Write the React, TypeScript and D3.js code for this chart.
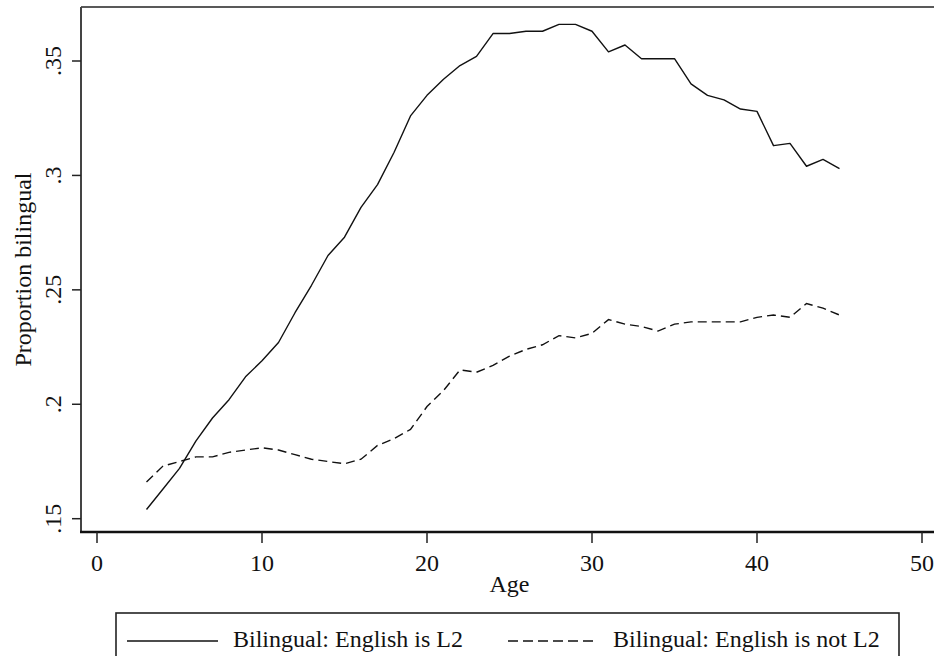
import React from 'react'
import { scaleLinear, line } from 'd3'

// ages 3..45, one value per year
const ages = [3, 4, 5, 6, 7, 8, 9, 10, 11, 12, 13, 14, 15, 16, 17, 18, 19, 20, 21, 22, 23, 24,
  25, 26, 27, 28, 29, 30, 31, 32, 33, 34, 35, 36, 37, 38, 39, 40, 41, 42, 43, 44, 45]

const englishL2 = [0.154, 0.163, 0.172, 0.184, 0.194, 0.202, 0.212, 0.219, 0.227, 0.240, 0.252,
  0.265, 0.273, 0.286, 0.296, 0.310, 0.326, 0.335, 0.342, 0.348, 0.352, 0.362, 0.362, 0.363,
  0.363, 0.366, 0.366, 0.363, 0.354, 0.357, 0.351, 0.351, 0.351, 0.340, 0.335, 0.333, 0.329,
  0.328, 0.313, 0.314, 0.304, 0.307, 0.303]

const englishNotL2 = [0.166, 0.173, 0.175, 0.177, 0.177, 0.179, 0.180, 0.181, 0.180, 0.178, 0.176,
  0.175, 0.174, 0.176, 0.182, 0.185, 0.189, 0.199, 0.206, 0.215, 0.214, 0.217, 0.221, 0.224,
  0.226, 0.230, 0.229, 0.231, 0.237, 0.235, 0.234, 0.232, 0.235, 0.236, 0.236, 0.236, 0.236,
  0.238, 0.239, 0.238, 0.244, 0.242, 0.239]

const xTicks = [0, 10, 20, 30, 40, 50]
const yTicks = [0.15, 0.2, 0.25, 0.3, 0.35]
const yTickLabels = ['.15', '.2', '.25', '.3', '.35']

const seriesNames = ['Bilingual: English is L2', 'Bilingual: English is not L2']

function App() {
  const width = 934,
    height = 656

  const left = 81,
    top = 7,
    bottom = 532

  const font = '"Liberation Serif", "Times New Roman", serif'

  const x = scaleLinear().domain([0, 50]).range([97, 922])
  const y = scaleLinear().domain([0.15, 0.35]).range([518.7, 61])

  const lineGen = line<number>()
    .x((d, i) => x(ages[i]))
    .y(d => y(d))

  return (
    <svg width={width} height={height} style={{ position: 'absolute', left: 0, top: 0, background: 'white' }}>
      {/* plot region frame */}
      <line x1={left} x2={width + 5} y1={top} y2={top} stroke='#222' strokeWidth={1.6} />
      <line x1={left} x2={left} y1={top} y2={bottom + 1} stroke='#444' strokeWidth={2} />
      <line x1={left - 1} x2={width + 5} y1={bottom} y2={bottom} stroke='#111' strokeWidth={2.4} />

      {/* y axis */}
      {yTicks.map((d, i) => (
        <g key={i}>
          <line x1={72} x2={left} y1={y(d)} y2={y(d)} stroke='#222' strokeWidth={1.5} />
          <text transform={`translate(61,${y(d)}) rotate(-90)`} textAnchor='middle'
            fontFamily={font} fontSize={24} fill='#111'>{yTickLabels[i]}</text>
        </g>
      ))}
      <text transform={`translate(31,${(top + bottom) / 2}) rotate(-90)`} textAnchor='middle'
        fontFamily={font} fontSize={24} fill='#111'>Proportion bilingual</text>

      {/* x axis */}
      {xTicks.map((d, i) => (
        <g key={i}>
          <line x1={x(d)} x2={x(d)} y1={bottom} y2={543} stroke='#222' strokeWidth={1.5} />
          <text x={x(d)} y={571} textAnchor='middle' fontFamily={font} fontSize={24} fill='#111'>{d}</text>
        </g>
      ))}
      <text x={(x(0) + x(50)) / 2} y={592} textAnchor='middle' fontFamily={font} fontSize={24} fill='#111'>Age</text>

      {/* series */}
      <path d={lineGen(englishL2) || ''} fill='none' stroke='#111' strokeWidth={1.4} strokeLinejoin='round' />
      <path d={lineGen(englishNotL2) || ''} fill='none' stroke='#111' strokeWidth={1.4} strokeDasharray='9,5' />

      {/* legend */}
      <rect x={116} y={613} width={783} height={60} fill='white' stroke='#222' strokeWidth={1.6} />
      <line x1={127} x2={218} y1={641} y2={641} stroke='#111' strokeWidth={1.4} />
      <text x={233} y={647} fontFamily={font} fontSize={24} fill='#111'>{seriesNames[0]}</text>
      <line x1={508} x2={598} y1={641} y2={641} stroke='#111' strokeWidth={1.4} strokeDasharray='10,5' />
      <text x={613} y={647} fontFamily={font} fontSize={24} fill='#111'>{seriesNames[1]}</text>
    </svg>
  )
}

export default App
